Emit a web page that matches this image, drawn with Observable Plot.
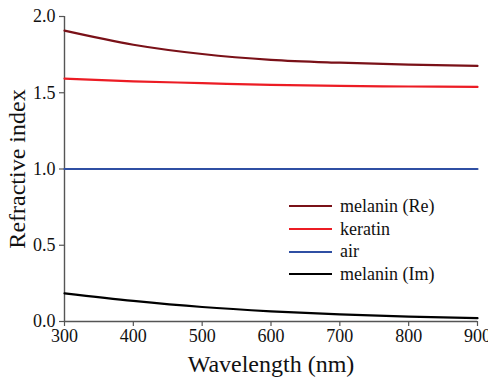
<!DOCTYPE html>
<html>
<head>
<meta charset="utf-8">
<script src="https://cdn.jsdelivr.net/npm/d3@7"></script>
<script src="https://cdn.jsdelivr.net/npm/@observablehq/plot@0.6"></script>
<style>
  html, body { margin: 0; padding: 0; background: #fff; font-family: 'Liberation Serif'; }
  svg, svg text { font-family: 'Liberation Serif' !important; }
</style>
</head>
<body>
<div id="wrap" style="position:relative;width:488px;height:377px;font-family:'Liberation Serif'"></div>
<script>
const wavelengths = [300, 400, 500, 600, 700, 800, 900];
const melaninRe = [1.907, 1.815, 1.754, 1.716, 1.697, 1.684, 1.676];
const keratin   = [1.593, 1.575, 1.563, 1.551, 1.545, 1.541, 1.538];
const air       = [1.0, 1.0, 1.0, 1.0, 1.0, 1.0, 1.0];
const melaninIm = [0.185, 0.135, 0.095, 0.067, 0.047, 0.032, 0.022];
const seriesNames  = ["melanin (Re)", "keratin", "air", "melanin (Im)"];
const seriesColors = ["#7a1118", "#ec1c24", "#2f4fa3", "#000000"];
const xTicks = [300, 400, 500, 600, 700, 800, 900];
const yTicks = [0, 0.5, 1.0, 1.5, 2.0];

const seriesValues = [melaninRe, keratin, air, melaninIm];
const rows = [];
seriesNames.forEach((name, i) => {
  wavelengths.forEach((w, j) => rows.push({series: name, wl: w, n: seriesValues[i][j]}));
});

const axisGray = "#555";
const chart = Plot.plot({
  width: 488,
  height: 377,
  marginLeft: 64,
  marginRight: 11,
  marginTop: 16,
  marginBottom: 56,
  style: {fontFamily: "'Liberation Serif'", fontSize: "18px", color: "#111", background: "#fff"},
  x: {domain: [300, 900]},
  y: {domain: [0, 2]},
  color: {domain: seriesNames, range: seriesColors},
  marks: [
    Plot.ruleX([300], {stroke: axisGray, strokeWidth: 1.4}),
    Plot.ruleY([0], {stroke: axisGray, strokeWidth: 1.4}),
    Plot.axisX({ticks: xTicks, tickSize: 5, tickPadding: 3, stroke: axisGray, strokeWidth: 1.2, label: null, fontSize: 18}),
    Plot.axisY({ticks: yTicks, tickSize: 5, tickPadding: 4, stroke: axisGray, strokeWidth: 1.2, tickFormat: d3.format(".1f"), label: null, fontSize: 18}),
    Plot.axisX({ticks: [], label: "Wavelength (nm)", labelAnchor: "center", labelArrow: false, labelOffset: 50, fontSize: 24}),
    Plot.axisY({ticks: [], label: "Refractive index", labelAnchor: "center", labelArrow: false, labelOffset: 57, fontSize: 24}),
    Plot.line(rows, {x: "wl", y: "n", z: "series", stroke: "series", strokeWidth: 2.2, curve: "monotone-x"})
  ]
});
document.getElementById("wrap").appendChild(chart);

const legend = document.createElement("div");
legend.style.cssText = "position:absolute;left:289px;top:195px;font-size:18px;color:#111;font-family:'Liberation Serif';";
seriesNames.forEach((name, i) => {
  const r = document.createElement("div");
  r.style.cssText = "display:flex;align-items:center;height:22.7px;";
  const sw = document.createElement("span");
  sw.style.cssText = "display:inline-block;width:43px;height:0;border-top:2px solid " + seriesColors[i] + ";margin-right:8px;";
  const t = document.createElement("span");
  t.textContent = name;
  r.appendChild(sw); r.appendChild(t);
  legend.appendChild(r);
});
document.getElementById("wrap").appendChild(legend);
</script>
</body>
</html>
